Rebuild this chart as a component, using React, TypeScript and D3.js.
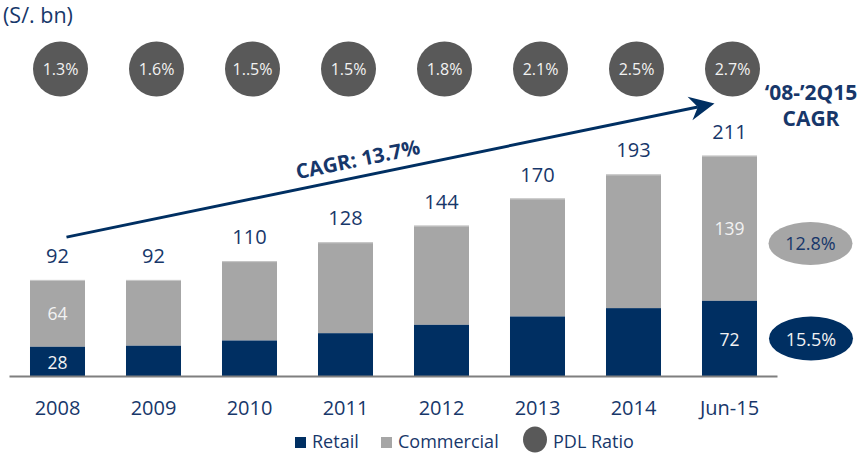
import React from "react";
import * as d3 from "d3";

const years = ["2008", "2009", "2010", "2011", "2012", "2013", "2014", "Jun-15"];
const retail = [28, 29, 34, 41, 49, 57, 65, 72];
const commercial = [64, 63, 76, 87, 95, 113, 128, 139];
const totals = [92, 92, 110, 128, 144, 170, 193, 211];
const pdlRatio = ["1.3%", "1.6%", "1..5%", "1.5%", "1.8%", "2.1%", "2.5%", "2.7%"];
const insideLabelYears = ["2008", "Jun-15"];
const cagrCommercial = "12.8%";
const cagrRetail = "15.5%";
const cagrTotal = "CAGR: 13.7%";

const W = 864;
const H = 453;
const NAVY = "#002F62";
const TEXT = "#17376a";
const GRAY = "#A6A6A6";
const DARK = "#595959";
const FONT = "'Open Sans', sans-serif";

export default function App() {
  const x = d3
    .scaleBand<string>()
    .domain(years)
    .range([9.5, 777.5])
    .paddingInner(0.427)
    .paddingOuter(0.2135);
  const y = d3.scaleLinear().domain([0, 211]).range([376, 155.7]);
  const bw = x.bandwidth();
  const cx = (yr: string) => (x(yr) as number) + bw / 2;

  const stack = years.map((yr, i) => ({
    yr,
    retail: retail[i],
    commercial: commercial[i],
    total: totals[i],
  }));

  // arrow annotation anchored in chart coordinates
  const a0 = { x: cx("2008") + 9, y: y(133) };
  const tip = { x: cx("Jun-15") - 15, y: y(261) };
  const ang = (Math.atan2(tip.y - a0.y, tip.x - a0.x) * 180) / Math.PI;
  const len = Math.hypot(tip.x - a0.x, tip.y - a0.y);
  const ux = (tip.x - a0.x) / len;
  const uy = (tip.y - a0.y) / len;
  const lineEnd = { x: tip.x - ux * 17, y: tip.y - uy * 17 };
  const midT = 0.455;
  const tMid = { x: a0.x + (tip.x - a0.x) * midT, y: a0.y + (tip.y - a0.y) * midT };
  const nx = uy, ny = -ux;
  const textPos = { x: tMid.x + nx * 10, y: tMid.y + ny * 10 };

  return (
    <svg
      width={W}
      height={H}
      style={{ position: "absolute", left: 0, top: 0, background: "#fff" }}
      fontFamily={FONT}
    >
      <text x={3} y={23} fontSize={21.5} fill={TEXT}>
        (S/. bn)
      </text>

      {/* PDL circles */}
      {years.map((yr, i) => (
        <g key={"c" + yr}>
          <circle cx={cx(yr) + 3} cy={69} r={27.5} fill={DARK} />
          <text x={cx(yr) + 3} y={75} fontSize={16} fill="#F2F2F2" textAnchor="middle">
            {pdlRatio[i]}
          </text>
        </g>
      ))}

      {/* bars */}
      {stack.map((d) => (
        <g key={"b" + d.yr}>
          <rect
            x={x(d.yr)}
            y={y(d.total)}
            width={bw}
            height={y(d.retail) - y(d.total)}
            fill={GRAY}
          />
          <line
            x1={x(d.yr)}
            x2={(x(d.yr) as number) + bw}
            y1={y(d.total) + 0.5}
            y2={y(d.total) + 0.5}
            stroke="#c9c9c9"
            strokeWidth={1}
          />
          <rect x={x(d.yr)} y={y(d.retail)} width={bw} height={y(0) - y(d.retail)} fill={NAVY} />
          <text
            x={cx(d.yr)}
            y={y(d.total) - 17}
            fontSize={20}
            fill={TEXT}
            textAnchor="middle"
          >
            {d.total}
          </text>
          {insideLabelYears.includes(d.yr) && (
            <>
              <text
                x={cx(d.yr)}
                y={(y(d.total) + y(d.retail)) / 2 + 7}
                fontSize={17.5}
                fill="#F2F2F2"
                textAnchor="middle"
              >
                {d.commercial}
              </text>
              <text
                x={cx(d.yr)}
                y={(y(d.retail) + y(0)) / 2 + 7.5}
                fontSize={17.5}
                fill="#F2F2F2"
                textAnchor="middle"
              >
                {d.retail}
              </text>
            </>
          )}
        </g>
      ))}

      {/* axis line */}
      <line x1={9.5} x2={777.5} y1={y(0) + 0.5} y2={y(0) + 0.5} stroke="#7f7f7f" strokeWidth={2} />
      {years.map((yr) => (
        <text key={"t" + yr} x={cx(yr)} y={415} fontSize={20} fill={TEXT} textAnchor="middle">
          {yr}
        </text>
      ))}

      {/* CAGR arrow */}
      <line x1={a0.x} y1={a0.y} x2={lineEnd.x} y2={lineEnd.y} stroke={NAVY} strokeWidth={3} />
      <path
        d="M0,0 L-25,-12 L-17,0 L-25,12 Z"
        fill={NAVY}
        transform={`translate(${tip.x},${tip.y}) rotate(${ang})`}
      />
      <text
        x={0}
        y={0}
        fontSize={20.5}
        fontWeight={700}
        fill={TEXT}
        textAnchor="middle"
        transform={`translate(${textPos.x},${textPos.y}) rotate(${ang})`}
      >
        {cagrTotal}
      </text>

      <text x={811} y={100} fontSize={21} fontWeight={700} fill={TEXT} textAnchor="middle">
        ‘08-’2Q15
      </text>
      <text x={811} y={126} fontSize={21} fontWeight={700} fill={TEXT} textAnchor="middle">
        CAGR
      </text>

      {/* segment CAGR ellipses */}
      <ellipse cx={810.5} cy={243.5} rx={42} ry={21.5} fill={GRAY} />
      <text x={810.5} y={250} fontSize={18} fill={TEXT} textAnchor="middle">
        {cagrCommercial}
      </text>
      <ellipse cx={811} cy={338.5} rx={42} ry={22} fill={NAVY} />
      <text x={811} y={345.5} fontSize={18} fill="#F2F2F2" textAnchor="middle">
        {cagrRetail}
      </text>

      {/* legend */}
      <rect x={295} y={437} width={11} height={11} fill={NAVY} />
      <text x={312} y={448} fontSize={18} fill={TEXT}>
        Retail
      </text>
      <rect x={381} y={437} width={11} height={11} fill={GRAY} />
      <text x={398} y={448} fontSize={18} fill={TEXT}>
        Commercial
      </text>
      <ellipse cx={535} cy={439.5} rx={12} ry={13} fill={DARK} />
      <text x={553} y={448} fontSize={18} fill={TEXT}>
        PDL Ratio
      </text>
    </svg>
  );
}
